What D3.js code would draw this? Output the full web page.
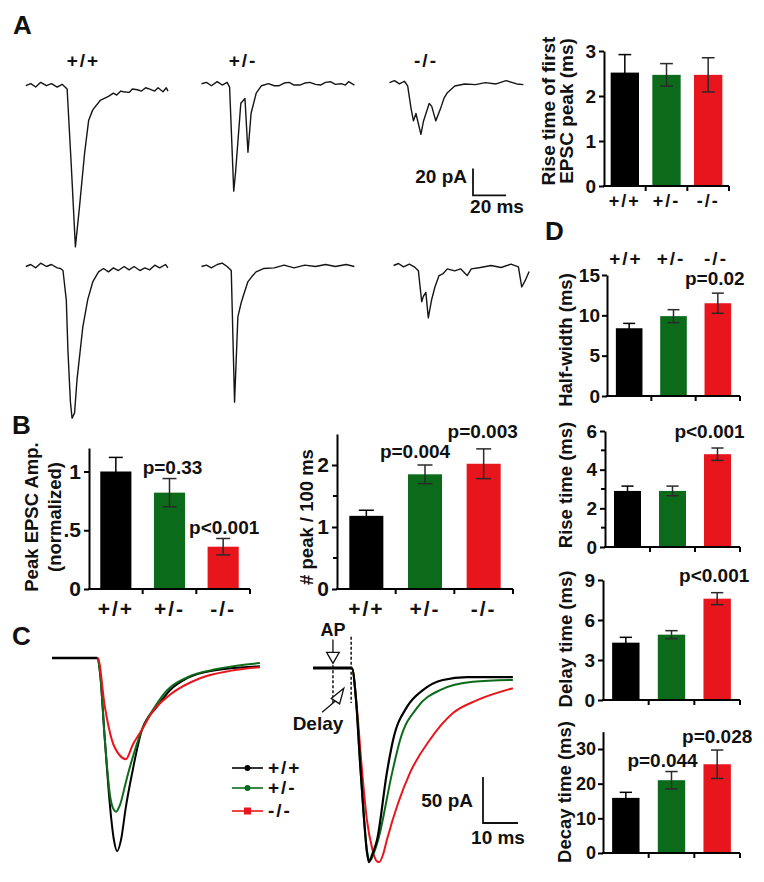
<!DOCTYPE html>
<html><head><meta charset="utf-8">
<script src="https://cdn.jsdelivr.net/npm/d3@7"></script>
<style>
body{margin:0;background:#fff}
svg text{font-family:"Liberation Sans",Arial,sans-serif;font-weight:bold;fill:#111}
</style>
</head><body>
<svg id="fig" width="764" height="882"></svg>
<script>
// ---------------- DATA ----------------
const groups = ["+/+", "+/-", "-/-"];
const colors = ["#000000", "#0b6b1b", "#e8161c"];

// A: rise time of first EPSC peak (ms)
const riseFirstMean = [2.52, 2.47, 2.47];
const riseFirstErr  = [0.40, 0.25, 0.38];
// B: normalized peak EPSC amplitude, peaks per 100 ms
const peakAmpMean = [1.00, 0.82, 0.36];
const peakAmpErr  = [0.12, 0.12, 0.07];
const peakAmpP    = [null, "p=0.33", "p<0.001"];
const peaksMean = [1.18, 1.85, 2.02];
const peaksErr  = [0.09, 0.15, 0.24];
const peaksP    = [null, "p=0.004", "p=0.003"];
// D
const halfWidthMean = [8.4, 9.9, 11.5];
const halfWidthErr  = [0.6, 0.8, 1.25];
const halfWidthP    = [null, null, "p=0.02"];
const riseMean = [2.9, 2.9, 4.8];
const riseErr  = [0.25, 0.25, 0.32];
const riseP    = [null, null, "p<0.001"];
const delayMean = [4.3, 4.9, 7.6];
const delayErr  = [0.4, 0.3, 0.45];
const delayP    = [null, null, "p<0.001"];
const decayMean = [15.9, 21.0, 25.6];
const decayErr  = [1.6, 2.5, 4.1];
const decayP    = [null, "p=0.044", "p=0.028"];

// A: example traces [time ms, current pA]
const traceA_wt1 = [[0,0],[3,1.5],[6,-1],[9,2.5],[12.5,0],[15.5,1.5],[19,-1],[22,1],[25,-2.5],[27.5,-59],[30,-120],[32.5,-90],[35.5,-51],[38,-26],[40.5,-18],[45,-11],[50,-8],[53,-5.5],[55,-7],[57.5,-4],[59,-4.5],[62.5,-5],[64.5,-2.5],[67.5,-3],[70,-4],[72.5,-1.5],[75,-2.5],[78,-4],[80,-1.5],[83,-4.5],[85,-1.5],[86,-4]];
const traceA_het1 = [[0,0],[3,1],[6,-1.5],[9.5,1.5],[12.5,-1],[15.5,1],[17,-2.5],[19.5,-80],[20.6,-66],[23.8,-14.5],[26.3,-11],[28.1,-51],[30,-22],[33.1,-7],[36.3,-1.5],[40.5,0],[44,-1.5],[47,-1.5],[50,0.5],[53,1],[56,-1],[59.5,-1],[62.5,0.5],[65.5,1],[69,-0.5],[72,-1],[75,1],[78,1.5],[81,-0.5],[84.5,0],[87,-1],[89,1.5],[92.5,-1]];
const traceA_ko1 = [[0,0],[3,1.5],[6,-1],[9,1],[11,-2.5],[13,-19],[14.5,-28.5],[16,-23],[19,-38.5],[20.5,-29],[24,-15.5],[25.5,-17.5],[28,-28.5],[31,-19],[33,-11.5],[35,-7.5],[39.5,-2.5],[45.5,-1],[52,-1.5],[58,0],[64.5,-1],[70.5,1.5],[77,-1],[81,-1.5]];
const traceA_wt2 = [[0,0],[3,1.5],[6,-1],[9,2.5],[12.5,0],[15.5,1.5],[19,-1],[21,-1.5],[22.5,-3],[24.5,-25],[25.5,-63],[27,-101],[28,-113],[29.5,-109],[31,-84],[34.5,-45],[37.5,-24.5],[40.5,-11.5],[44,-4],[47,-1.5],[50,-4],[53,-1],[56,-3],[59.5,0],[62.5,-2.5],[65.5,0],[69,-3],[72,-1],[75,-2.5],[78,1],[81,-1],[84.5,1.5],[86,-1]];
const traceA_het2 = [[0,0],[3,1],[6,-1],[9.5,1.5],[12.5,2.5],[15.5,0],[18,-3],[20,-101],[22,-37.5],[24,-27],[25.5,-21],[28,-11.5],[30.5,-7.5],[33,-4],[37.5,-1.5],[44,-1],[50,1],[56,-1],[62.5,1],[69,0],[75,1.5],[81,0],[87.5,1.5],[92.5,0]];
const traceA_ko2 = [[0,0],[3,1.5],[6,-1],[9.5,1],[12.5,-1],[15,-4],[17,-27],[18,-23],[19.5,-20],[21,-39],[23,-25.5],[25,-16],[27.5,-7.5],[30,-6],[32.5,-2.5],[37,-4],[40.5,-2.5],[44.5,-7.5],[47,-2.5],[52.5,-1.5],[59,0],[65,-1.5],[71,1],[75.5,-1],[77.5,-16],[79.5,-11.5],[82,-4.5]];

// C: averaged traces [time ms, current pA]
const cLeftWT  = [[0,0],[12.9,0],[13.7,-15],[15.1,-89],[16.6,-162],[17.7,-198],[18.6,-210],[19.7,-198],[21.1,-162],[22.9,-125],[25.7,-78],[30,-53],[33.7,-35],[38.6,-22],[47.1,-13],[59.4,-9]];
const cLeftHET = [[0,0],[12.9,0],[13.7,-15],[15.1,-89],[16.6,-150],[17.4,-163],[18.3,-167],[19.4,-160],[21.1,-135],[22.3,-118],[25.7,-78],[29.4,-53],[32.9,-35],[38.6,-21],[47.1,-12],[59.4,-5.5]];
const cLeftKO  = [[0,0],[13.1,0],[15.1,-53],[17.1,-89],[19.4,-106],[21.1,-110],[23.1,-94],[25.7,-78],[28.6,-59],[33.7,-40],[42.3,-22],[50.9,-14],[59.4,-10]];
const cRightWT  = [[0,0],[11.1,0],[12.3,-35],[13.4,-100],[14.6,-165],[15.4,-200],[16,-211],[16.9,-203],[18.3,-187],[21.1,-114],[22.9,-78],[26.9,-42],[31.4,-24],[37.1,-13],[44,-10],[57.1,-10]];
const cRightHET = [[0,0],[11.1,0],[12.3,-35],[13.4,-100],[14.6,-165],[15.4,-198],[16.3,-209],[17.2,-203],[18.6,-187],[22.6,-114],[24.9,-78],[30,-42],[36.3,-24],[45.7,-15],[57.1,-13]];
const cRightKO  = [[0,0],[11.1,0],[12.6,-46],[14,-111],[15.4,-165],[16.9,-196],[18,-209],[18.9,-211],[20,-203],[21.1,-187],[27.7,-114],[33.4,-78],[40,-49],[46.9,-35],[57.1,-22]];

// ---------------- DRAWING ----------------
const svg = d3.select("#fig");

function text(x, y, s, size, anchor = "middle", extra = {}) {
  const t = svg.append("text").attr("x", x).attr("y", y).attr("font-size", size)
    .attr("text-anchor", anchor).text(s);
  Object.entries(extra).forEach(([k, v]) => t.attr(k, v));
  return t;
}
function vtext(x, cy, s, size) {
  svg.append("text").attr("transform", `translate(${x},${cy}) rotate(-90)`)
    .attr("font-size", size).attr("text-anchor", "middle").text(s);
}

function barChart(o) {
  const g = svg.append("g");
  const x = d3.scaleBand().domain(groups).range([o.x0, o.x1]).padding(0);
  const y = d3.scaleLinear().domain([0, o.ymax]).range([o.yBase, o.yBase - o.ymax * o.ppu]);
  const bw = x.bandwidth() * o.frac;
  g.selectAll("rect").data(groups).enter().append("rect")
    .attr("x", d => x(d) + (x.bandwidth() - bw) / 2)
    .attr("y", (d, i) => y(o.means[i]))
    .attr("width", bw)
    .attr("height", (d, i) => y(0) - y(o.means[i]))
    .attr("fill", (d, i) => colors[i]);
  groups.forEach((d, i) => {
    const cx = x(d) + x.bandwidth() / 2;
    const top = y(o.means[i] + o.errs[i]), bot = y(o.means[i] - o.errs[i]);
    const cw = Math.min(bw * 0.45, 15) / 2;
    const col = i === 0 ? "#000" : "#2a2a2a";
    g.append("line").attr("x1", cx).attr("x2", cx).attr("y1", top).attr("y2", bot).attr("stroke", col).attr("stroke-width", 1.5);
    g.append("line").attr("x1", cx - cw).attr("x2", cx + cw).attr("y1", top).attr("y2", top).attr("stroke", col).attr("stroke-width", 1.5);
    g.append("line").attr("x1", cx - cw).attr("x2", cx + cw).attr("y1", bot).attr("y2", bot).attr("stroke", col).attr("stroke-width", 1.5);
    if (o.p && o.p[i]) {
      text(cx + (o.pdx ? o.pdx[i] : 0), top - (o.pdy ? o.pdy[i] : 6), o.p[i], o.psize || 19);
    }
  });
  // y axis
  const ya = g.append("g").attr("transform", `translate(${o.x0},0)`)
    .call(d3.axisLeft(y).tickValues(o.ticks).tickFormat(o.fmt || d3.format("d")).tickSize(5).tickSizeOuter(0).tickPadding(o.tpad || 3));
  ya.select(".domain").attr("stroke", "#000").attr("stroke-width", 2);
  ya.selectAll(".tick line").attr("stroke", "#000").attr("stroke-width", 2);
  ya.selectAll(".tick text").attr("font-size", o.tsize).attr("fill", "#111")
    .attr("font-family", '"Liberation Sans",Arial,sans-serif').attr("font-weight", "bold");
  (o.minor || []).forEach(v => {
    g.append("line").attr("x1", o.x0 - 4).attr("x2", o.x0).attr("y1", y(v)).attr("y2", y(v)).attr("stroke", "#000").attr("stroke-width", 2);
  });
  // x axis
  g.append("line").attr("x1", o.x0 - 1).attr("x2", o.x1).attr("y1", o.yBase).attr("y2", o.yBase).attr("stroke", "#000").attr("stroke-width", 2);
  [x(groups[1]), x(groups[2]), o.x1].forEach(xx => {
    g.append("line").attr("x1", xx).attr("x2", xx).attr("y1", o.yBase).attr("y2", o.yBase + 5).attr("stroke", "#000").attr("stroke-width", 2);
  });
  if (o.xlab) {
    groups.forEach(d => text(x(d) + x.bandwidth() / 2, o.yBase + o.xlabDy, d, o.xlabSize, "middle", {"letter-spacing": 2}));
  }
  // y title
  o.title.forEach((s, k) => vtext(o.titleX[k], o.titleY, s, o.titleSize));
}

// Panel A bar chart
barChart({x0: 604, x1: 729, yBase: 186, ymax: 3, ppu: 45, frac: 0.68,
  means: riseFirstMean, errs: riseFirstErr, ticks: [0,1,2,3], tsize: 19,
  xlab: true, xlabDy: 21, xlabSize: 18,
  title: ["Rise time of first", "EPSC peak (ms)"], titleX: [555, 573], titleY: 111, titleSize: 19});

// Panel B
barChart({x0: 89, x1: 250, yBase: 589, ymax: 1.2, ppu: 117.5, frac: 0.58,
  means: peakAmpMean, errs: peakAmpErr, ticks: [0, 0.5, 1], fmt: v => v === 0.5 ? ".5" : String(v), tsize: 21,
  p: peakAmpP, pdy: [0, 5, 4.5], pdx: [0, 3, 1],
  xlab: true, xlabDy: 27, xlabSize: 21,
  title: ["Peak EPSC Amp.", "(normalized)"], titleX: [38, 61], titleY: 517, titleSize: 18.5});
barChart({x0: 337, x1: 513, yBase: 589, ymax: 2.5, ppu: 62, frac: 0.58,
  means: peaksMean, errs: peaksErr, ticks: [0, 1, 2], minor: [0.5, 1.5], tsize: 21,
  p: peaksP, pdy: [0, 7, 11], pdx: [0, -10, -1],
  xlab: true, xlabDy: 27, xlabSize: 21,
  title: ["# peak / 100 ms"], titleX: [313], titleY: 517, titleSize: 18.5});

// Panel D
barChart({x0: 607, x1: 740, yBase: 396, ymax: 15, ppu: 121 / 15, frac: 0.6,
  means: halfWidthMean, errs: halfWidthErr, ticks: [0, 5, 10, 15], tsize: 19, tpad: 2,
  p: halfWidthP, pdy: [0, 0, 8], pdx: [0, 0, -3],
  title: ["Half-width (ms)"], titleX: [572], titleY: 340, titleSize: 18.5});
barChart({x0: 605, x1: 740, yBase: 547, ymax: 6, ppu: 116 / 6, frac: 0.6,
  means: riseMean, errs: riseErr, ticks: [0, 2, 4, 6], minor: [1, 3, 5], tsize: 19,
  p: riseP, pdy: [0, 0, 10], pdx: [0, 0, -8],
  title: ["Rise time (ms)"], titleX: [572], titleY: 485, titleSize: 18.5});
barChart({x0: 603, x1: 740, yBase: 700, ymax: 9, ppu: 120 / 9, frac: 0.6,
  means: delayMean, errs: delayErr, ticks: [0, 3, 6, 9], tsize: 19,
  p: delayP, pdy: [0, 0, 11], pdx: [0, 0, -3],
  title: ["Delay time (ms)"], titleX: [572], titleY: 639, titleSize: 18.5});
barChart({x0: 603, x1: 740, yBase: 853, ymax: 35, ppu: 104 / 30, frac: 0.6,
  means: decayMean, errs: decayErr, ticks: [0, 10, 20, 30], tsize: 18, tpad: 2,
  p: decayP, pdy: [0, 4.5, 7], pdx: [0, -9, 0],
  title: ["Decay time (ms)"], titleX: [571], titleY: 792, titleSize: 18.5});

// D header labels
[[626, "+/+"], [671, "+/-"], [716, "-/-"]].forEach(([xx, s]) => text(xx, 265, s, 19, "middle", {"letter-spacing": 2}));

// ---------- Traces ----------
function traceScales(x0, y0, pxMs, pxPA) {
  return {
    x: d3.scaleLinear().domain([0, 100]).range([x0, x0 + 100 * pxMs]),
    y: d3.scaleLinear().domain([0, -100]).range([y0, y0 + 100 * pxPA])
  };
}
function drawTrace(data, sc, color, w, curve) {
  const line = d3.line().x(d => sc.x(d[0])).y(d => sc.y(d[1])).curve(curve || d3.curveLinear);
  svg.append("path").attr("d", line(data)).attr("fill", "none").attr("stroke", color)
    .attr("stroke-width", w).attr("stroke-linejoin", "round");
}

// Panel A traces
const aMs = 1.653, aPA = 1.343;
const A = [
  [traceA_wt1, 25.8, 85.7], [traceA_het1, 201.5, 83.7], [traceA_ko1, 389.5, 82.6],
  [traceA_wt2, 25.8, 266.5], [traceA_het2, 201.5, 266.5], [traceA_ko2, 393.6, 265.5]
];
A.forEach(([d, x0, y0]) => drawTrace(d, traceScales(x0, y0, aMs, aPA), "#151515", 1.4));
[[83.5, "+/+"], [243, "+/-"], [426, "-/-"]].forEach(([xx, s]) => text(xx, 67, s, 19, "middle", {"letter-spacing": 2}));

// A scale bar (20 pA, 20 ms)
{
  const sc = traceScales(473, 195.3, aMs, aPA);
  svg.append("path").attr("d", d3.line()([[sc.x(0), sc.y(20)], [sc.x(0), sc.y(0)], [sc.x(20), sc.y(0)]]))
    .attr("fill", "none").attr("stroke", "#111").attr("stroke-width", 1.8);
  text(467, 183, "20 pA", 19, "end");
  text(497, 213, "20 ms", 19, "middle");
}

// Panel C traces
const cMs = 3.5, cPA = 0.92;
const smooth = d3.curveMonotoneX;
const scL = traceScales(52, 658, cMs, cPA);
drawTrace(cLeftWT, scL, colors[0], 2, smooth);
drawTrace(cLeftHET, scL, colors[1], 2, smooth);
drawTrace(cLeftKO, scL, colors[2], 2, smooth);
const scR = traceScales(313, 668, cMs, cPA);
drawTrace(cRightKO, scR, colors[2], 2, smooth);
drawTrace(cRightHET, scR, colors[1], 2, smooth);
drawTrace(cRightWT, scR, colors[0], 2.2, smooth);
svg.append("line").attr("x1", scR.x(0)).attr("x2", scR.x(11.1)).attr("y1", scR.y(0)).attr("y2", scR.y(0))
  .attr("stroke", "#000").attr("stroke-width", 3);
svg.append("line").attr("x1", scL.x(0)).attr("x2", scL.x(12.9)).attr("y1", scL.y(0)).attr("y2", scL.y(0))
  .attr("stroke", "#000").attr("stroke-width", 2.6);

// AP / Delay annotations
{
  const tAP = 5.7, tOn = 10.9;
  svg.append("line").attr("x1", scR.x(tAP)).attr("x2", scR.x(tAP)).attr("y1", scR.y(3)).attr("y2", scR.y(-38))
    .attr("stroke", "#111").attr("stroke-width", 1.5).attr("stroke-dasharray", "3,2");
  svg.append("line").attr("x1", scR.x(tOn)).attr("x2", scR.x(tOn)).attr("y1", scR.y(34)).attr("y2", scR.y(-38))
    .attr("stroke", "#111").attr("stroke-width", 1.5).attr("stroke-dasharray", "3,2");
  svg.append("line").attr("x1", scR.x(tAP)).attr("x2", scR.x(tAP)).attr("y1", scR.y(31)).attr("y2", scR.y(17))
    .attr("stroke", "#111").attr("stroke-width", 1.3);
  svg.append("path").attr("d", d3.line()([[scR.x(tAP - 1.8), scR.y(17)], [scR.x(tAP + 1.8), scR.y(17)], [scR.x(tAP), scR.y(5)]]) + "Z")
    .attr("fill", "#fff").attr("stroke", "#111").attr("stroke-width", 1.3);
  text(scR.x(tAP), 636, "AP", 18);
  svg.append("line").attr("x1", scR.x(2.6)).attr("x2", scR.x(6.4)).attr("y1", scR.y(-48)).attr("y2", scR.y(-36))
    .attr("stroke", "#111").attr("stroke-width", 1.3);
  {
    const ax = scR.x(6.4), ay = scR.y(-36), bx = scR.x(8.8), by = scR.y(-22);
    const dx = bx - ax, dy = by - ay, L = Math.hypot(dx, dy), nx = -dy / L * 5, ny = dx / L * 5;
    svg.append("path").attr("d", `M${ax + nx},${ay + ny}L${ax - nx},${ay - ny}L${bx},${by}Z`)
      .attr("fill", "#fff").attr("stroke", "#111").attr("stroke-width", 1.3);
  }
  text(318, 730, "Delay", 19);
}

// C scale bar (50 pA, 10 ms)
{
  const sc = traceScales(483, 823, cMs, cPA);
  svg.append("path").attr("d", d3.line()([[sc.x(0), sc.y(50)], [sc.x(0), sc.y(0)], [sc.x(10), sc.y(0)]]))
    .attr("fill", "none").attr("stroke", "#111").attr("stroke-width", 1.8);
  text(473, 807, "50 pA", 19, "end");
  text(498, 844, "10 ms", 19, "middle");
}

// C legend
{
  const ly = [768, 788, 811];
  groups.forEach((gname, i) => {
    svg.append("line").attr("x1", 232).attr("x2", 263).attr("y1", ly[i]).attr("y2", ly[i])
      .attr("stroke", colors[i]).attr("stroke-width", 1.6);
    if (i < 2) svg.append("circle").attr("cx", 247.5).attr("cy", ly[i]).attr("r", 3).attr("fill", colors[i]);
    else svg.append("rect").attr("x", 244).attr("y", ly[i] - 3.5).attr("width", 7).attr("height", 7).attr("fill", colors[i]);
    text(268, ly[i] + 6, gname, 19, "start", {"letter-spacing": 2});
  });
}

// Panel letters
text(13, 34, "A", 26, "start");
text(12, 434, "B", 26, "start");
text(12, 645, "C", 26, "start");
text(545, 240, "D", 26, "start");
</script>
</body></html>
